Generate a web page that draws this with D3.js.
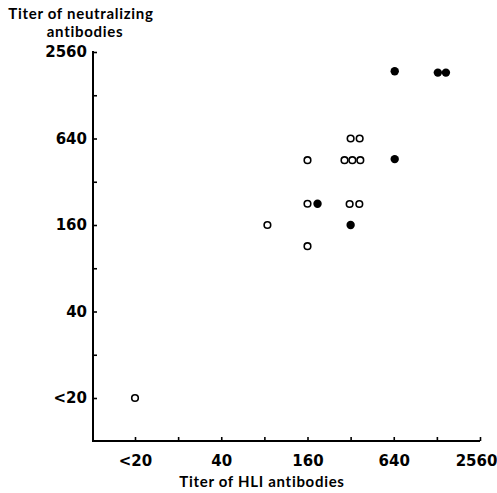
<!DOCTYPE html>
<html>
<head>
<meta charset="utf-8">
<script src="https://cdn.jsdelivr.net/npm/d3@7"></script>
<style>
  body { margin: 0; background: #fff; }
  text { font-weight: bold; fill: #000; }
  .num { font-family: "DejaVu Sans", sans-serif; font-size: 15px; }
  .title { font-family: Lato, sans-serif; font-size: 15px; letter-spacing: 0.7px; }
</style>
</head>
<body>
<div id="chart"></div>
<script>
// titers; 10 stands for "<20"
const tickValues = [10, 20, 40, 80, 160, 320, 640, 1280, 2560];
const tickLabels = { 10: "<20", 40: "40", 160: "160", 640: "640", 2560: "2560" };

// HLI titer, neutralizing titer
const openX = [320, 370, 160, 290, 329, 374, 160, 315, 368, 84, 160, 10];
const openY = [640, 640, 452, 452, 452, 452, 225, 224, 224, 160, 114, 10];
const filledX = [650, 1300, 1480, 650, 188, 320];
const filledY = [1880, 1840, 1840, 460, 225, 160];

const width = 497, height = 493;
const svg = d3.select("#chart").append("svg")
  .attr("width", width)
  .attr("height", height);

const x = d3.scaleLog().base(2).domain([10, 2560]).range([135, 480]);
const y = d3.scaleLog().base(2).domain([10, 2560]).range([398, 52]);

const axisX = 93, axisY = 441;
const fmt = d => tickLabels[d] || "";

// y axis
const gy = svg.append("g")
  .attr("transform", `translate(${axisX},0)`)
  .call(d3.axisLeft(y).tickValues(tickValues).tickSize(-4).tickPadding(6).tickFormat(fmt));
gy.select(".domain").remove();
gy.selectAll(".tick line").attr("stroke", "#000").attr("stroke-width", 1.6);
gy.selectAll(".tick text").attr("class", "num").attr("font-family", null).attr("font-size", null);

// x axis
const gx = svg.append("g")
  .attr("transform", `translate(0,${axisY})`)
  .call(d3.axisBottom(x).tickValues(tickValues).tickSize(-4).tickPadding(14).tickFormat(fmt));
gx.select(".domain").remove();
gx.selectAll(".tick line").attr("stroke", "#000").attr("stroke-width", 1.6);
gx.selectAll(".tick text").attr("class", "num").attr("font-family", null).attr("font-size", null);
// last label sits against the right edge
gx.selectAll(".tick text").filter(d => d === 2560).attr("dx", -4);

// axis lines
svg.append("path")
  .attr("d", `M${axisX},${y(2560) - 1}V${axisY}H${x(2560)}`)
  .attr("fill", "none")
  .attr("stroke", "#000")
  .attr("stroke-width", 2);

// titles
svg.append("text").attr("class", "title")
  .attr("x", 81).attr("y", 19)
  .attr("text-anchor", "middle")
  .text("Titer of neutralizing");
svg.append("text").attr("class", "title")
  .attr("x", 85).attr("y", 37)
  .attr("text-anchor", "middle")
  .text("antibodies");

svg.append("text").attr("class", "title")
  .attr("x", 262).attr("y", 487)
  .attr("text-anchor", "middle")
  .text("Titer of HLI antibodies");

// points
svg.append("g").selectAll("circle")
  .data(d3.zip(openX, openY))
  .join("circle")
    .attr("cx", d => x(d[0]))
    .attr("cy", d => y(d[1]))
    .attr("r", 3.3)
    .attr("fill", "#fff")
    .attr("stroke", "#000")
    .attr("stroke-width", 1.6);

svg.append("g").selectAll("circle")
  .data(d3.zip(filledX, filledY))
  .join("circle")
    .attr("cx", d => x(d[0]))
    .attr("cy", d => y(d[1]))
    .attr("r", 4.2)
    .attr("fill", "#000");
</script>
</body>
</html>
